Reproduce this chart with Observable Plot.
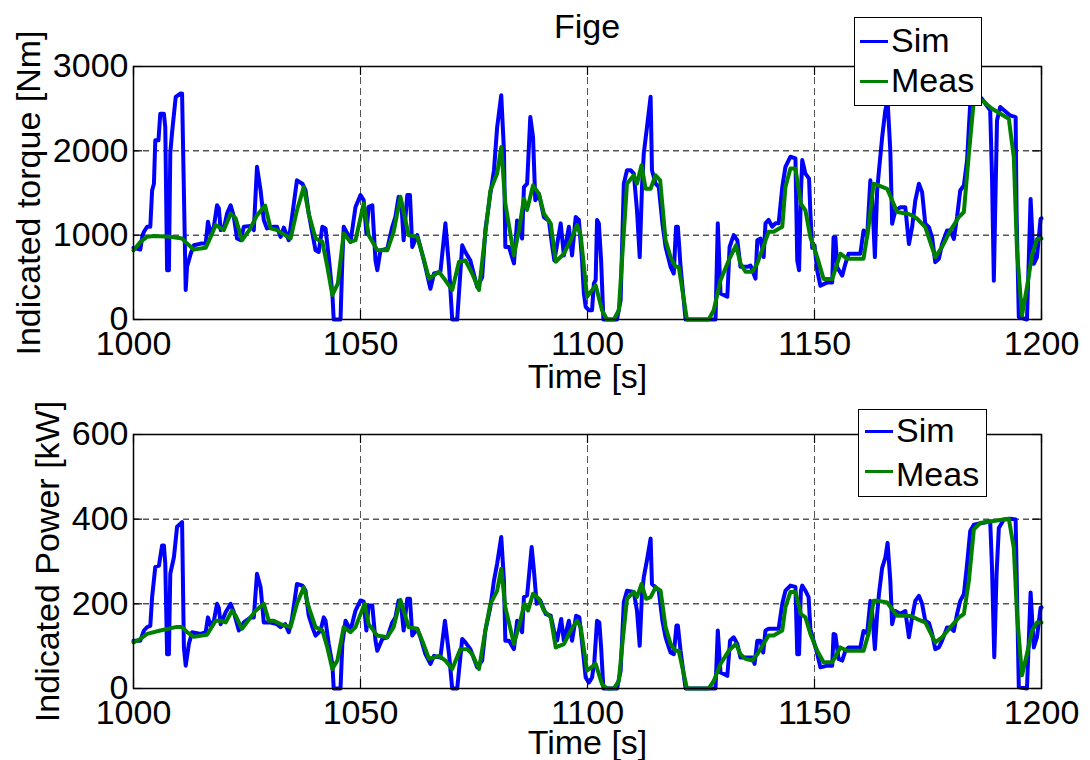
<!DOCTYPE html>
<html><head><meta charset="utf-8">
<script src="https://cdn.jsdelivr.net/npm/d3@7"></script>
<script src="https://cdn.jsdelivr.net/npm/@observablehq/plot@0.6"></script>
<style>
body{margin:0;background:#fff;font-family:"Liberation Sans",Arial,Helvetica,sans-serif;}
#wrap{position:relative;width:1090px;height:760px;overflow:hidden;background:#fff}
#wrap svg{overflow:visible}
.chart{position:absolute;left:0}
.title{position:absolute;left:487px;width:200px;top:9px;text-align:center;font-size:34px;line-height:34px}
.legend{position:absolute;background:#fff;border:1.5px solid #000;box-sizing:border-box}
.legend .ln{position:absolute;height:3px}
.legend .tx{position:absolute;font-size:34px;line-height:34px;white-space:nowrap}
</style></head><body>
<div id="wrap">
  <div id="c1" class="chart" style="top:0"></div>
  <div id="c2" class="chart" style="top:395px"></div>
  <div class="title">Fige</div>
  <div class="legend" style="left:854px;top:17px;width:128px;height:89px">
    <div class="ln" style="left:5px;top:22px;width:28px;background:#0000ff"></div>
    <div class="tx" style="left:36px;top:5px">Sim</div>
    <div class="ln" style="left:5px;top:62px;width:28px;background:#008000"></div>
    <div class="tx" style="left:36px;top:45px">Meas</div>
  </div>
  <div class="legend" style="left:858px;top:409px;width:129px;height:88px">
    <div class="ln" style="left:6px;top:20px;width:28px;background:#0000ff"></div>
    <div class="tx" style="left:37px;top:3px">Sim</div>
    <div class="ln" style="left:6px;top:60px;width:28px;background:#008000"></div>
    <div class="tx" style="left:37px;top:47px">Meas</div>
  </div>
</div>
<script>
// ---- tick values ----
const timeTicks = [1000, 1050, 1100, 1150, 1200];
const timeGrid = [1050, 1100, 1150];
const torqueTicks = [0, 1000, 2000, 3000];
const torqueGrid = [1000, 2000];
const powerTicks = [0, 200, 400, 600];
const powerGrid = [200, 400];

// ---- Indicated torque, Sim ----
const simTorqueT = [1000.0,1001.5,1002.0,1002.3,1003.0,1003.7,1004.1,1004.5,1004.8,1005.5,1005.9,1006.7,1007.0,1007.4,1007.8,1008.1,1008.5,1009.3,1010.4,1010.7,1011.5,1011.8,1012.6,1013.3,1014.8,1015.9,1016.4,1017.0,1017.7,1018.4,1018.8,1019.2,1019.9,1020.6,1021.4,1022.1,1022.8,1023.6,1024.3,1025.8,1026.5,1027.2,1028.0,1028.7,1029.4,1030.9,1031.6,1032.4,1033.1,1034.2,1034.9,1036.0,1037.2,1037.9,1038.6,1039.4,1040.1,1040.8,1041.6,1042.3,1043.0,1043.8,1044.1,1045.6,1046.0,1046.3,1047.1,1047.8,1048.9,1050.0,1050.7,1051.3,1051.8,1052.6,1053.3,1053.7,1054.4,1055.9,1057.0,1057.7,1058.4,1059.0,1059.5,1060.3,1060.9,1061.4,1062.5,1063.2,1064.3,1065.4,1066.2,1067.6,1068.7,1069.5,1070.2,1071.3,1072.4,1073.1,1074.2,1075.7,1076.8,1077.5,1078.6,1079.4,1080.1,1081.0,1081.6,1081.9,1082.7,1083.8,1084.5,1085.6,1086.0,1086.7,1087.4,1088.0,1088.5,1089.3,1090.4,1091.5,1092.2,1092.7,1094.1,1094.8,1095.9,1096.6,1097.4,1098.1,1098.8,1099.2,1099.6,1100.3,1101.0,1101.4,1101.8,1102.1,1102.5,1103.0,1103.5,1106.5,1107.3,1108.0,1108.7,1109.5,1110.2,1110.9,1111.5,1112.0,1112.4,1113.1,1113.9,1114.2,1115.0,1115.7,1116.5,1117.2,1118.3,1119.0,1119.5,1119.9,1120.5,1121.6,1128.2,1128.7,1129.3,1130.8,1131.3,1132.2,1133.0,1133.7,1135.2,1135.9,1137.0,1137.4,1138.1,1138.8,1139.2,1139.9,1140.7,1141.4,1142.1,1142.9,1143.6,1144.7,1145.8,1146.2,1146.6,1147.0,1147.3,1148.0,1148.8,1149.1,1149.5,1150.0,1150.6,1151.3,1152.8,1153.9,1154.2,1154.6,1155.0,1156.1,1156.8,1157.5,1160.1,1160.8,1161.6,1162.3,1162.7,1163.3,1163.8,1164.2,1164.9,1165.6,1166.1,1166.7,1167.1,1167.8,1168.9,1170.0,1170.8,1171.5,1172.2,1173.0,1173.7,1174.4,1175.2,1175.9,1176.6,1177.4,1178.1,1179.2,1179.9,1180.7,1181.4,1182.1,1182.9,1183.6,1184.3,1185.1,1186.9,1188.7,1189.1,1189.5,1189.8,1190.2,1190.9,1193.1,1194.3,1194.5,1195.0,1196.8,1197.6,1198.3,1199.0,1199.8,1200.0];
const simTorqueV = [850,830,1000,1040,1100,1100,1530,1610,2125,2125,2440,2440,2280,585,585,1970,2220,2640,2680,2680,350,625,780,880,900,900,1160,1020,1100,1355,1320,1060,1080,1255,1355,1220,960,940,1100,1110,1060,1810,1530,1180,1080,1100,1100,980,1090,940,1210,1650,1610,1530,1255,1020,820,800,1100,1080,740,310,0,0,700,1100,1020,920,1335,1475,1415,1020,1335,1355,700,585,820,840,1100,1220,1455,1380,940,1475,1475,860,1000,860,625,365,545,565,1140,625,0,0,880,800,700,385,500,1060,1490,1770,2280,2660,2000,860,860,665,1175,960,1570,1610,2400,2165,1415,1490,1215,1170,880,700,1140,760,1100,760,1215,1180,700,310,150,110,110,425,470,1180,1140,700,0,0,230,1610,1770,1770,1730,1295,740,1570,1970,2280,2640,1770,1610,1570,1140,860,625,545,1100,1100,625,0,0,1140,310,270,860,1000,940,625,625,640,485,940,960,740,1140,1180,1100,1140,1140,1570,1810,1930,1910,700,585,1490,1890,1730,1670,1255,850,880,580,400,440,440,975,975,620,520,660,780,780,1055,980,1650,1450,740,1530,1765,2160,2480,2600,2000,1135,1290,1330,1330,895,1095,1410,1610,1510,1135,1095,975,680,720,895,1055,1055,955,1215,1530,1590,1885,2560,2715,2615,2480,1690,460,1290,2360,2520,2420,2400,1290,30,0,1430,660,740,1195,1200];

// ---- Indicated torque, Meas ----
const measTorqueT = [1000.0,1001.5,1003.0,1004.5,1008.1,1010.7,1011.8,1013.3,1015.9,1017.0,1018.1,1019.9,1021.4,1022.5,1023.9,1025.5,1027.2,1029.0,1030.2,1031.6,1034.6,1036.0,1037.5,1038.6,1040.1,1041.6,1042.7,1043.8,1045.0,1046.3,1047.8,1048.9,1050.7,1051.8,1053.7,1055.9,1057.3,1058.8,1060.6,1062.5,1063.6,1065.1,1067.3,1068.7,1070.2,1071.7,1073.1,1074.6,1076.1,1077.5,1078.6,1080.1,1081.0,1081.9,1083.8,1084.9,1086.0,1086.7,1088.0,1089.3,1090.4,1091.9,1093.0,1094.8,1096.3,1097.7,1098.5,1099.9,1101.8,1103.2,1104.3,1105.8,1106.9,1107.6,1108.7,1110.2,1110.9,1111.9,1112.8,1113.9,1115.0,1116.0,1117.2,1118.3,1119.4,1120.1,1121.9,1126.7,1127.8,1129.3,1131.1,1132.7,1133.7,1134.8,1136.3,1137.4,1139.9,1141.0,1142.9,1143.6,1144.7,1145.8,1147.0,1148.0,1149.1,1150.6,1152.0,1153.9,1155.7,1157.2,1160.8,1161.9,1163.0,1164.1,1166.0,1168.2,1170.4,1171.5,1172.6,1174.4,1176.6,1178.1,1179.9,1181.8,1182.9,1184.0,1185.1,1186.9,1189.1,1192.8,1193.9,1194.6,1195.7,1196.8,1197.9,1199.0,1200.0];
const measTorqueV = [820,920,980,990,980,960,900,830,850,980,1120,1060,1255,1200,940,1060,1235,1350,1080,1060,960,1295,1570,1255,960,920,625,290,425,1020,920,940,1375,1000,820,820,1040,1455,1000,980,780,485,565,465,350,685,700,545,350,1020,1530,1730,2045,1375,760,1060,1435,1300,1590,1490,1255,1140,685,780,940,1120,1000,270,405,110,0,0,110,700,1610,1710,1610,1830,1550,1550,1710,1650,940,740,625,625,0,0,110,465,700,880,665,565,565,665,1040,1040,1100,1570,1790,1790,1375,1295,975,740,480,480,780,720,720,1095,1610,1590,1550,1275,1255,1235,1195,1095,740,860,1055,1215,1275,1965,2600,2600,2500,2380,1925,820,50,385,760,955,960];

// ---- Indicated power, Sim ----
const simPowerT = [1000.0,1001.5,1002.3,1003.0,1003.7,1004.1,1004.8,1005.6,1006.3,1006.7,1007.0,1007.4,1007.8,1008.1,1008.9,1009.6,1010.7,1011.1,1011.5,1012.2,1012.9,1014.8,1015.9,1016.4,1017.0,1017.7,1018.4,1018.8,1019.2,1020.3,1021.4,1022.1,1023.2,1024.3,1025.8,1026.5,1027.2,1028.0,1028.7,1030.2,1031.6,1032.4,1033.4,1034.2,1034.9,1036.0,1037.2,1037.9,1038.6,1039.4,1040.1,1041.2,1041.9,1042.3,1043.0,1043.8,1044.1,1045.6,1046.0,1046.7,1047.8,1048.9,1050.0,1050.7,1051.3,1051.8,1052.6,1053.3,1053.7,1054.8,1055.9,1057.0,1057.7,1058.4,1059.0,1059.5,1060.3,1060.9,1061.4,1062.5,1063.2,1064.3,1065.4,1066.2,1067.6,1068.6,1069.5,1070.2,1071.3,1072.4,1073.1,1074.2,1075.7,1076.8,1077.5,1078.6,1079.4,1080.1,1081.0,1081.6,1081.9,1082.7,1083.8,1084.5,1085.6,1086.0,1086.7,1087.7,1088.2,1088.8,1089.6,1090.8,1091.9,1092.6,1093.3,1094.2,1094.8,1095.9,1096.6,1097.5,1098.2,1099.0,1099.6,1100.3,1101.0,1101.5,1102.1,1102.6,1103.0,1103.5,1106.5,1107.3,1108.0,1108.7,1110.2,1110.9,1111.5,1112.0,1112.4,1113.1,1113.9,1114.2,1115.0,1115.7,1116.5,1117.2,1118.3,1119.0,1119.6,1119.9,1120.5,1121.6,1128.2,1128.7,1129.3,1130.8,1131.4,1132.2,1133.0,1133.7,1136.3,1136.8,1137.4,1138.1,1138.7,1139.2,1139.9,1142.1,1142.9,1143.6,1144.7,1145.8,1146.2,1146.6,1147.0,1147.3,1148.0,1148.7,1149.1,1149.8,1150.6,1151.3,1152.8,1153.9,1154.2,1154.6,1155.3,1156.1,1156.8,1157.5,1160.1,1160.8,1161.6,1162.3,1162.7,1163.3,1163.8,1164.2,1164.9,1165.6,1166.1,1166.7,1167.1,1167.8,1168.9,1170.0,1170.8,1171.5,1172.2,1173.0,1173.7,1174.4,1175.2,1175.9,1176.6,1177.4,1178.1,1179.2,1179.9,1180.7,1181.4,1182.1,1182.9,1183.6,1184.3,1185.1,1186.9,1188.7,1189.1,1189.6,1190.1,1190.6,1191.7,1193.1,1194.3,1194.5,1195.0,1196.8,1197.6,1198.3,1199.0,1199.8,1200.0];
const simPowerV = [113,113,137,145,148,216,287,290,338,338,295,81,81,271,310,382,393,97,54,105,133,129,133,168,149,160,200,190,152,180,200,180,137,156,168,168,271,239,156,156,152,145,152,133,164,247,243,231,172,145,125,137,168,160,105,58,0,0,105,160,137,184,208,205,137,196,196,113,89,117,121,156,168,208,190,137,212,212,125,141,121,81,58,77,73,160,81,0,0,117,109,93,50,66,137,192,255,295,358,255,113,113,93,160,133,216,220,334,279,200,208,176,172,137,113,164,113,160,113,172,168,89,26,14,26,62,160,156,97,0,0,42,204,231,228,184,101,224,263,303,354,247,239,231,160,121,85,81,149,149,89,0,0,137,38,30,113,121,105,73,73,58,113,113,85,137,141,141,200,231,243,240,81,81,231,243,231,216,140,113,82,50,54,54,129,127,70,66,89,97,97,136,130,207,180,93,176,223,285,309,344,254,152,183,176,183,121,168,207,219,200,160,155,129,93,97,113,144,144,136,176,207,223,293,372,387,391,395,285,74,270,379,399,401,399,285,3,0,227,97,121,191,192];

// ---- Indicated power, Meas ----
const measPowerT = [1000.0,1001.5,1003.0,1005.9,1009.3,1010.7,1011.8,1013.3,1016.2,1018.1,1019.2,1020.3,1021.7,1022.5,1023.9,1026.9,1028.7,1029.8,1030.9,1032.4,1034.6,1036.0,1037.5,1038.6,1040.1,1041.6,1042.7,1043.8,1044.9,1046.3,1047.8,1048.9,1050.9,1051.8,1053.7,1055.9,1057.3,1058.8,1060.6,1062.5,1063.6,1065.1,1067.3,1068.7,1070.2,1072.0,1073.5,1074.6,1076.1,1077.5,1078.6,1080.1,1081.0,1081.9,1083.8,1085.2,1086.1,1086.9,1088.0,1089.3,1090.4,1091.9,1093.0,1094.8,1096.3,1097.7,1098.5,1099.9,1101.8,1103.2,1104.3,1105.8,1106.9,1107.6,1108.7,1110.2,1110.9,1111.9,1112.9,1113.9,1115.0,1116.1,1117.2,1118.3,1119.4,1120.1,1121.9,1126.7,1127.8,1129.3,1131.1,1132.7,1133.7,1134.8,1136.3,1137.4,1139.9,1141.0,1142.9,1143.6,1144.7,1145.8,1147.0,1148.0,1149.1,1150.6,1152.0,1153.9,1155.7,1157.2,1160.8,1161.9,1163.0,1164.1,1166.0,1168.2,1170.4,1171.5,1172.6,1174.4,1176.6,1178.1,1179.9,1181.8,1182.9,1184.0,1185.1,1186.5,1189.1,1192.8,1193.9,1194.6,1195.7,1196.8,1197.9,1199.0,1200.0];
const measPowerV = [109,117,129,137,145,145,133,122,127,160,160,156,184,172,141,184,200,160,160,152,145,200,239,192,145,137,97,46,66,145,133,145,200,152,125,121,145,209,145,141,113,70,77,66,46,93,93,81,46,137,200,231,283,192,105,160,200,184,224,212,184,168,97,105,137,160,145,42,58,10,0,0,18,97,212,228,216,247,212,216,239,231,145,105,89,89,0,0,18,58,89,105,81,70,66,81,125,125,137,192,228,228,176,168,129,89,62,62,97,89,89,129,207,207,203,172,172,170,164,156,109,121,144,168,176,254,376,391,395,401,332,176,31,82,136,156,156];

const toRows = (T, V) => T.map((t, i) => ({t, v: V[i]}));
const font = '"Liberation Sans", Arial, Helvetica, sans-serif';
const SIM = "#0000ff", MEAS = "#008000";

function panel({height, marginTop, marginBottom, yDomain, yTicks, yGrid, sim, meas, yLabel, yLabelOffset, xTickPadding, xLabelOffset}) {
  const W = 1090, mL = 133, mR = 49;
  const fw = W - mL - mR;
  const fh = height - marginTop - marginBottom;
  const tl = 9;
  return Plot.plot({
    width: W, height,
    marginLeft: mL, marginRight: mR, marginTop, marginBottom,
    style: {fontFamily: font, fontSize: "34px", background: "transparent", color: "#000", overflow: "visible"},
    x: {domain: [1000, 1200]},
    y: {domain: yDomain},
    marks: [
      Plot.ruleY(yGrid, {y: d => d, stroke: "#000", strokeWidth: 1, strokeDasharray: "6,4"}),
      Plot.ruleX(timeGrid, {x: d => d, stroke: "#555", strokeWidth: 1, strokeDasharray: "7,4"}),
      Plot.line(sim, {x: "t", y: "v", stroke: SIM, strokeWidth: 4, strokeLinejoin: "round", strokeLinecap: "round"}),
      Plot.line(meas, {x: "t", y: "v", stroke: MEAS, strokeWidth: 4, strokeLinejoin: "round", strokeLinecap: "round"}),
      Plot.frame({stroke: "#000", strokeWidth: 1.5}),
      Plot.tickX(timeTicks, {x: d => d, stroke: "#000", strokeWidth: 1.2, insetTop: fh - tl}),
      Plot.tickX(timeTicks, {x: d => d, stroke: "#000", strokeWidth: 1.2, insetBottom: fh - tl}),
      Plot.tickY(yTicks, {y: d => d, stroke: "#000", strokeWidth: 1.2, insetRight: fw - tl}),
      Plot.tickY(yTicks, {y: d => d, stroke: "#000", strokeWidth: 1.2, insetLeft: fw - tl}),
      Plot.axisX(timeTicks, {tickSize: 0, tickPadding: xTickPadding, tickFormat: "d", label: "Time [s]", labelAnchor: "center", labelOffset: xLabelOffset, labelArrow: "none"}),
      Plot.axisY(yTicks, {tickSize: 0, tickPadding: 5, tickFormat: "d", label: yLabel, labelAnchor: "center", labelOffset: yLabelOffset, labelArrow: "none"})
    ]
  });
}

document.getElementById("c1").append(panel({
  height: 395, marginTop: 66, marginBottom: 76,
  yDomain: [0, 3000], yTicks: torqueTicks, yGrid: torqueGrid,
  sim: toRows(simTorqueT, simTorqueV), meas: toRows(measTorqueT, measTorqueV),
  yLabel: "Indicated torque [Nm]", yLabelOffset: 118, xTickPadding: 11, xLabelOffset: 68
}));
document.getElementById("c2").append(panel({
  height: 365, marginTop: 39, marginBottom: 72,
  yDomain: [0, 600], yTicks: powerTicks, yGrid: powerGrid,
  sim: toRows(simPowerT, simPowerV), meas: toRows(measPowerT, measPowerV),
  yLabel: "Indicated Power [kW]", yLabelOffset: 99, xTickPadding: 11, xLabelOffset: 65
}));
</script>
</body></html>
